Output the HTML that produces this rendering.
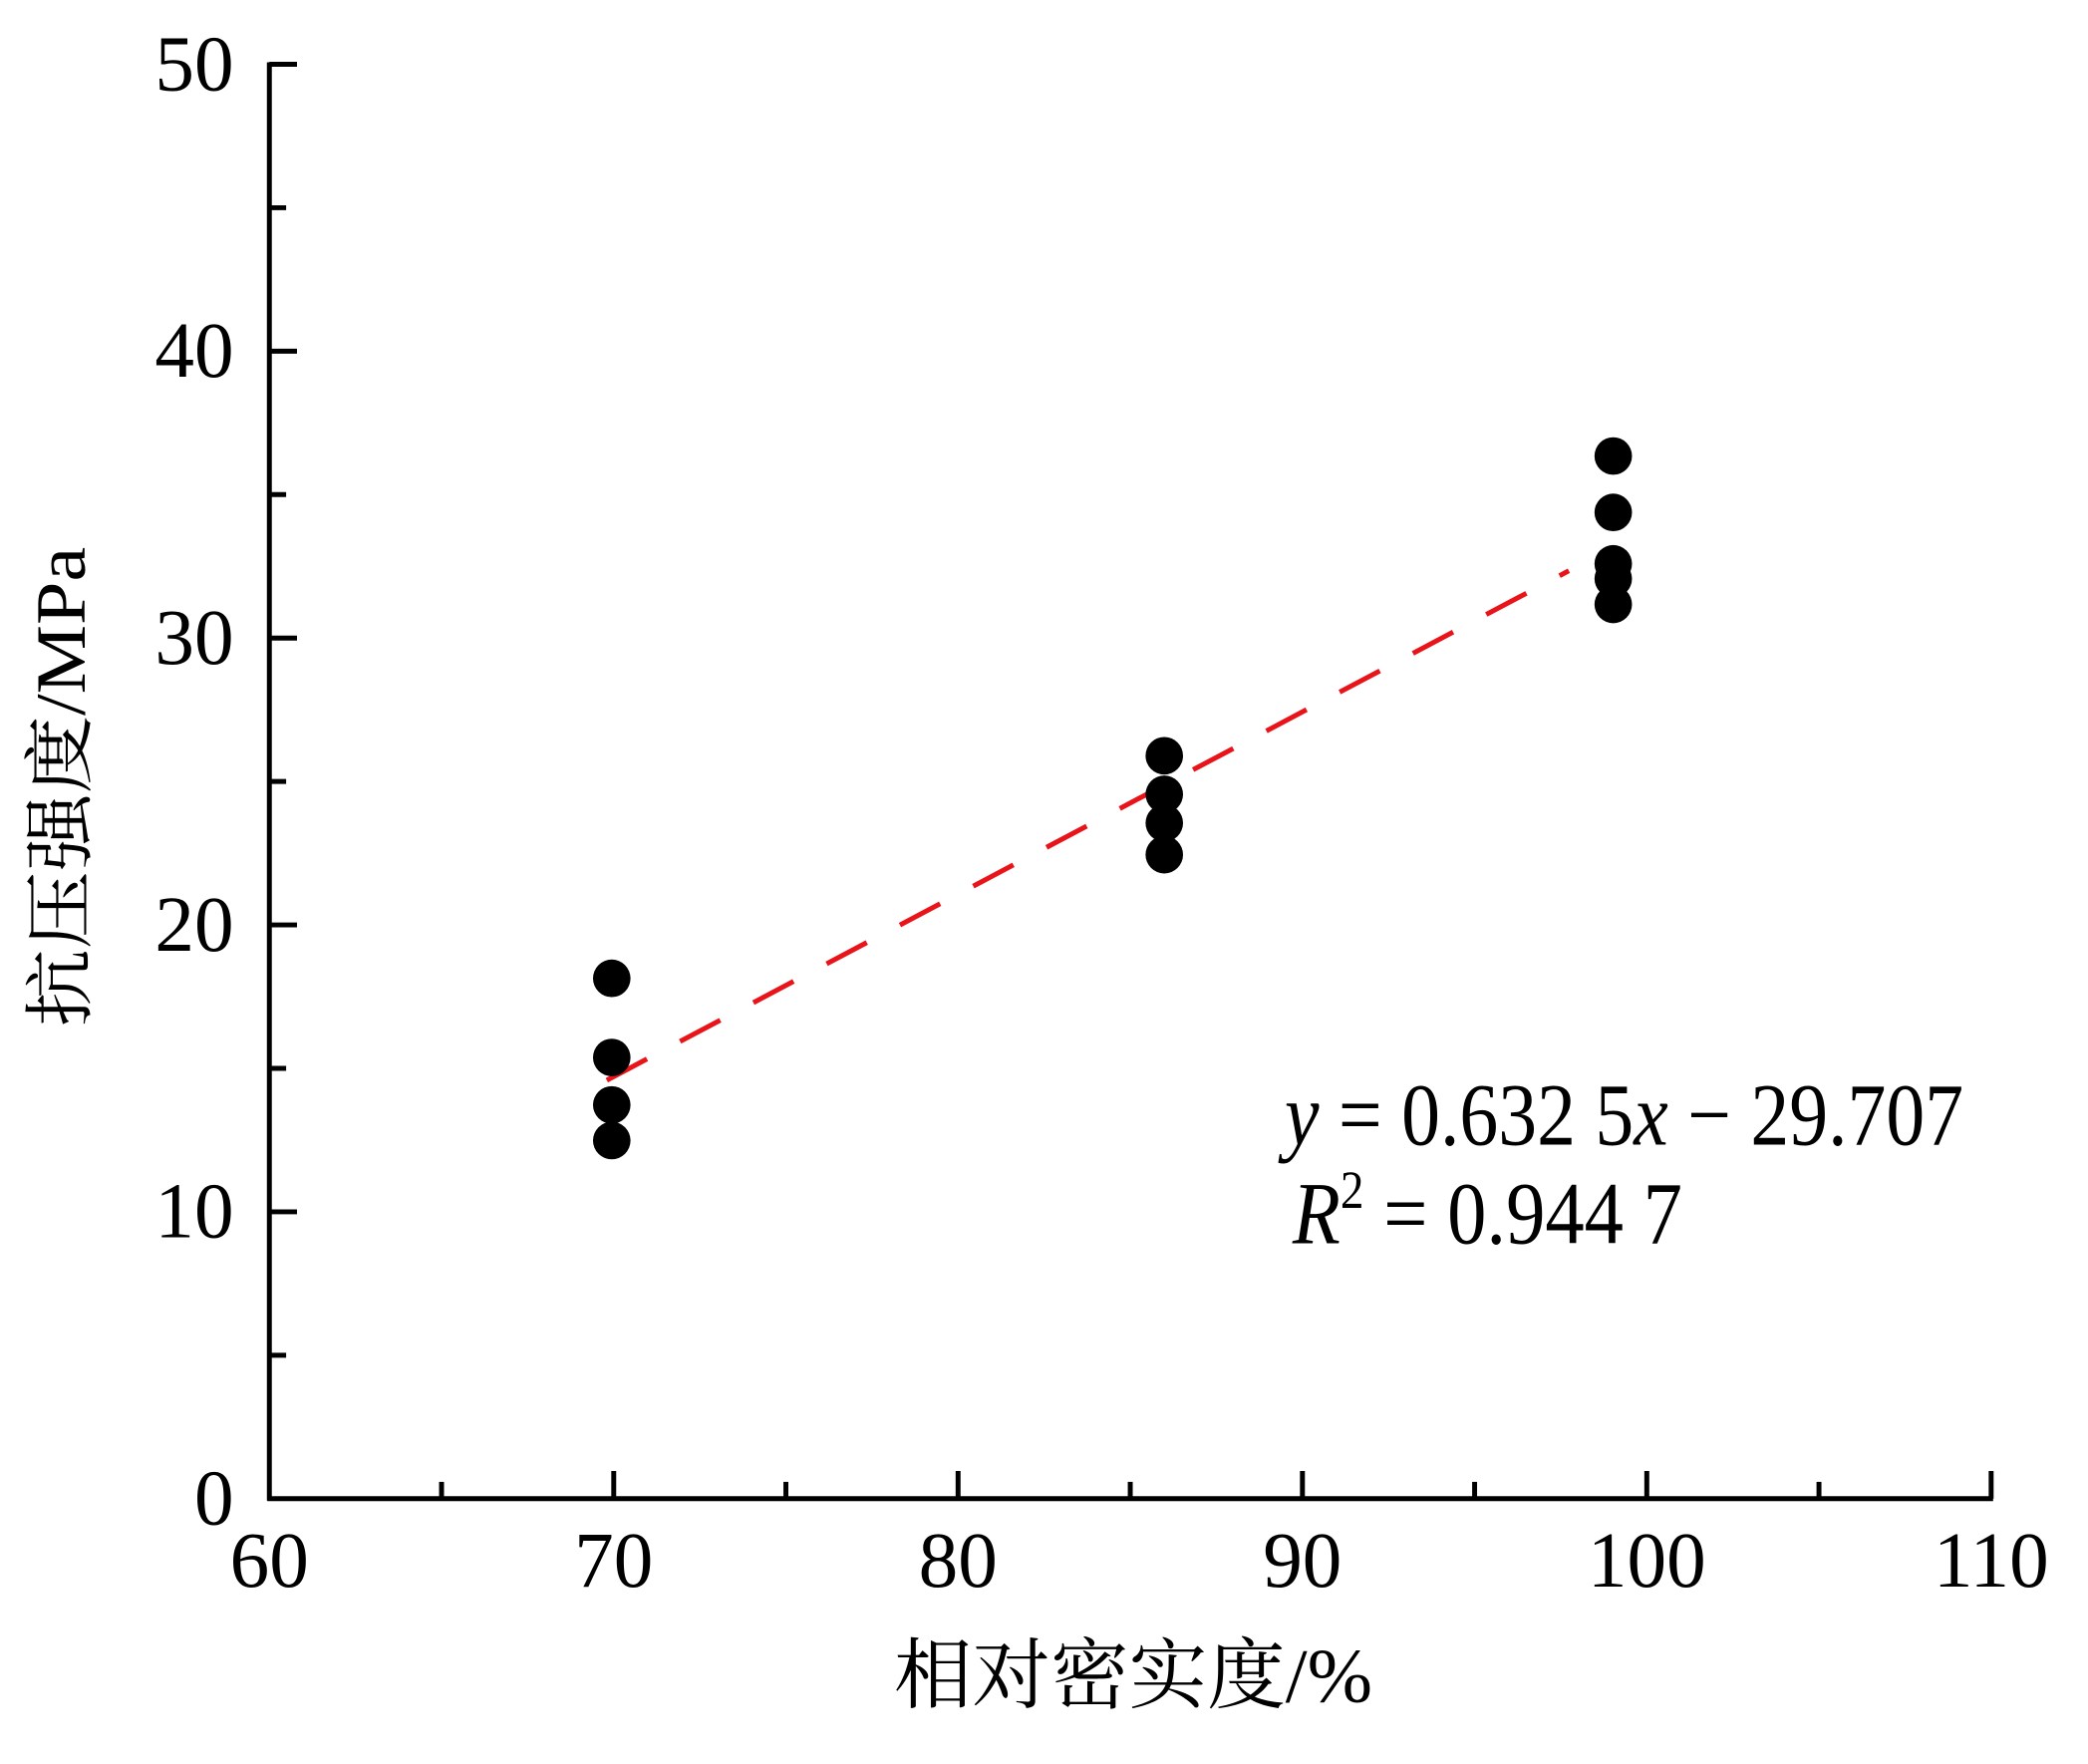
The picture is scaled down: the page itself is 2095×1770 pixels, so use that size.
<!DOCTYPE html>
<html><head><meta charset="utf-8"><style>html,body{margin:0;padding:0;background:#fff}svg{display:block}</style></head>
<body>
<svg width="2095" height="1770" viewBox="0 0 2095 1770" xmlns="http://www.w3.org/2000/svg">
<g transform="matrix(0.990,0,0,0.9926,0,-2)">
<g stroke="#000" stroke-width="5" fill="none">
<line x1="273" y1="65" x2="273" y2="1519"/>
<line x1="271" y1="1517" x2="2020" y2="1517"/>
<line x1="273" y1="67" x2="301" y2="67"/>
<line x1="273" y1="212" x2="290" y2="212"/>
<line x1="273" y1="357" x2="301" y2="357"/>
<line x1="273" y1="502" x2="290" y2="502"/>
<line x1="273" y1="647" x2="301" y2="647"/>
<line x1="273" y1="792" x2="290" y2="792"/>
<line x1="273" y1="937" x2="301" y2="937"/>
<line x1="273" y1="1082" x2="290" y2="1082"/>
<line x1="273" y1="1227" x2="301" y2="1227"/>
<line x1="273" y1="1372" x2="290" y2="1372"/>
<line x1="447.5" y1="1517" x2="447.5" y2="1500"/>
<line x1="622" y1="1517" x2="622" y2="1489"/>
<line x1="796.5" y1="1517" x2="796.5" y2="1500"/>
<line x1="971" y1="1517" x2="971" y2="1489"/>
<line x1="1145.5" y1="1517" x2="1145.5" y2="1500"/>
<line x1="1320" y1="1517" x2="1320" y2="1489"/>
<line x1="1494.5" y1="1517" x2="1494.5" y2="1500"/>
<line x1="1669" y1="1517" x2="1669" y2="1489"/>
<line x1="1843.5" y1="1517" x2="1843.5" y2="1500"/>
<line x1="2018" y1="1517" x2="2018" y2="1489"/>
</g>
<g font-family="'Liberation Serif', serif" font-size="80" fill="#000" text-anchor="end">
<text x="237" y="93">50</text>
<text x="237" y="383">40</text>
<text x="237" y="673">30</text>
<text x="237" y="963">20</text>
<text x="237" y="1253">10</text>
<text x="237" y="1543">0</text>
</g>
<g font-family="'Liberation Serif', serif" font-size="80" fill="#000" text-anchor="middle">
<text x="273" y="1606">60</text>
<text x="622" y="1606">70</text>
<text x="971" y="1606">80</text>
<text x="1320" y="1606">90</text>
<text x="1669" y="1606">100</text>
<text x="2018" y="1606">110</text>
</g>
<text x="906" y="1722" font-family="'Liberation Serif', 'Noto Serif CJK SC', serif" font-size="78" textLength="485" lengthAdjust="spacingAndGlyphs">相对密实度/%</text>
<text transform="translate(86,1040) rotate(-90)" x="0" y="0" font-family="'Liberation Serif', 'Noto Serif CJK SC', serif" font-size="72" textLength="485" lengthAdjust="spacingAndGlyphs">抗压强度/MPa</text>
<line x1="615" y1="1094" x2="1590" y2="579" stroke="#e8141a" stroke-width="5" stroke-dasharray="46 38"/>
<g fill="#000">
<circle cx="620" cy="991" r="19"/>
<circle cx="620" cy="1071" r="19"/>
<circle cx="620" cy="1119" r="19"/>
<circle cx="620" cy="1155" r="19"/>
<circle cx="1180" cy="766" r="19"/>
<circle cx="1180" cy="805" r="19"/>
<circle cx="1180" cy="834" r="19"/>
<circle cx="1180" cy="866" r="19"/>
<circle cx="1635" cy="463" r="19"/>
<circle cx="1635" cy="520" r="19"/>
<circle cx="1635" cy="572" r="19"/>
<circle cx="1635" cy="587" r="19"/>
<circle cx="1635" cy="613" r="19"/>
</g>
<g font-family="'Liberation Serif', serif" font-size="90" fill="#000">
<text x="1302" y="1159" textLength="688" lengthAdjust="spacingAndGlyphs"><tspan font-style="italic">y</tspan> = 0.632 5<tspan font-style="italic">x</tspan> − 29.707</text>
<text x="1310" y="1259" textLength="395" lengthAdjust="spacingAndGlyphs"><tspan font-style="italic">R</tspan><tspan font-size="54" dy="-36">2</tspan><tspan dy="36"> = 0.944 7</tspan></text>
</g>
</g>
</svg>
</body></html>
